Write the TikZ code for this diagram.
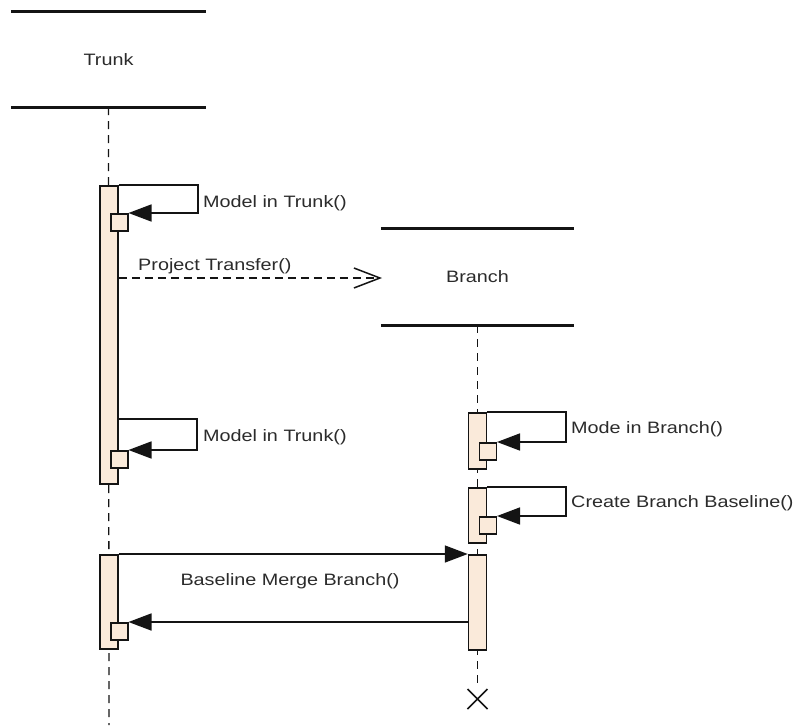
\documentclass[tikz,border=0pt]{standalone}
\usepackage{fontspec}
\usetikzlibrary{arrows.meta,calc,positioning}
\newfontfamily\umlfont{Liberation Sans}[FakeStretch=1.2]
\definecolor{umlInk}{HTML}{141414}
\definecolor{umlText}{HTML}{2B2B2B}
\definecolor{umlBar}{HTML}{FAEADA}
\begin{document}
\begin{tikzpicture}[x=1pt,y=-1pt,>=Latex,line join=miter]
\useasboundingbox[fill=white] (0,0) rectangle (797,725);
\tikzset{head/.style={minimum width=195pt,minimum height=95pt,inner sep=0pt,text=umlText,font=\umlfont\fontsize{16.5pt}{19pt}\selectfont},headline/.style={draw=umlInk,line width=3pt},life/.style={draw=umlInk,line width=1.3pt,dash pattern=on 8pt off 6pt},act/.style={draw=umlInk,fill=umlBar,line width=1.5pt,minimum width=18pt,inner sep=0pt,anchor=north},sbox/.style={draw=umlInk,fill=umlBar,line width=1.5pt,minimum size=17pt,inner sep=0pt,anchor=north west},call/.style={draw=umlInk,line width=1.6pt,-{Triangle[length=23pt,width=17pt]}},reply/.style={draw=umlInk,line width=1.3pt,dash pattern=on 8pt off 5pt,-{Straight Barb[length=26pt,width=20pt,line width=1.5pt]}},lbl/.style={anchor=west,text=umlText,inner sep=0pt,font=\umlfont\fontsize{16.5pt}{19pt}\selectfont}}
\node[head] (trunk) at (108.5,59.5) {Trunk};
\node[head,minimum width=193pt,minimum height=96pt] (branch) at (477.5,277) {Branch};
\foreach \h in {trunk,branch} {\draw[headline] (\h.north west) -- (\h.north east); \draw[headline] (\h.south west) -- (\h.south east);}
\coordinate (tend) at (109,725); \coordinate (bend) at (477.5,688);
\draw[life] (trunk.south) -- (tend);
\draw[life] (branch.south) -- (bend);
\draw[umlInk,line width=1.5pt] (467.5,689) -- (487.5,709) (487.5,689) -- (467.5,709);
\node[act,minimum height=298pt] (tA) at (109,185) {};
\node[act,minimum height=94pt] (tB) at (109,554) {};
\node[act,minimum height=56pt] (bA) at (477.5,412) {};
\node[act,minimum height=55pt] (bB) at (477.5,487) {};
\node[act,minimum height=95pt] (bC) at (477.5,554) {};
\node[sbox] (tA1) at (110,213) {};
\node[sbox] (tA2) at (110,450) {};
\node[sbox] (bA1) at (478.5,442) {};
\node[sbox] (bB1) at (478.5,516) {};
\node[sbox] (tB1) at (110,622) {};
\draw[call] (tA.north east) -- ++(79,0) |- (tA1.north east);
\draw[call] ($(tA.north east)+(0,234)$) -- ++(78,0) |- (tA2.north east);
\draw[call] (bA.north east) -- ++(79,0) |- (bA1.north east);
\draw[call] (bB.north east) -- ++(79,0) |- (bB1.north east);
\coordinate (ptip) at (382,278);
\draw[reply] (tA.east |- ptip) -- (ptip);
\draw[call] (tB.north east) -- (bC.north west);
\draw[call] (bC.west |- tB1.north) -- (tB1.north east);
\node[lbl] at (203,203) {Model in Trunk()};
\node[lbl] at (138,266) {Project Transfer()};
\node[lbl] at (203,437) {Model in Trunk()};
\node[lbl] at (571,429) {Mode in Branch()};
\node[lbl] at (571,503) {Create Branch Baseline()};
\node[lbl,anchor=center] at (290,581) {Baseline Merge Branch()};
\end{tikzpicture}
\end{document}
